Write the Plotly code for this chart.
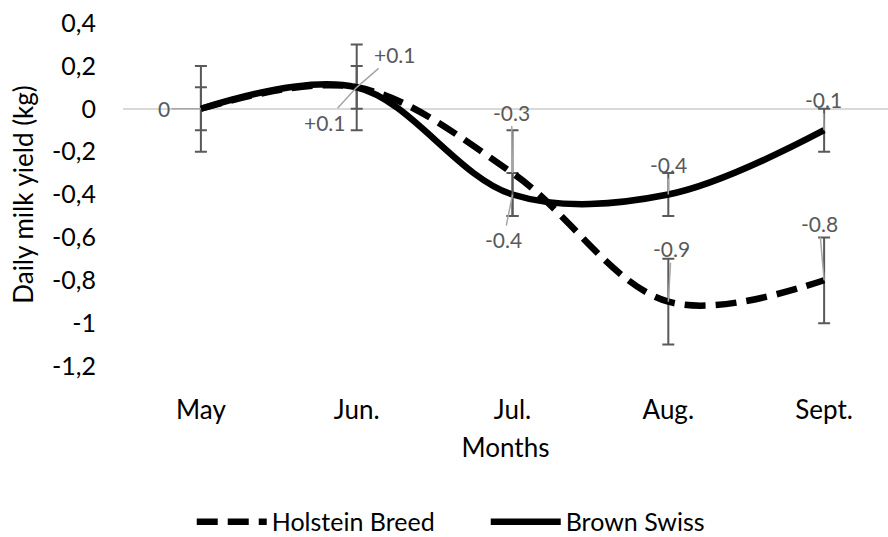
import plotly.graph_objects as go

# ---- data ----
months = ["May", "Jun.", "Jul.", "Aug.", "Sept."]
holstein = [0.0, 0.1, -0.3, -0.9, -0.8]
brown_swiss = [0.0, 0.1, -0.4, -0.4, -0.1]
holstein_err = [0.2, 0.2, 0.2, 0.2, 0.2]
brown_swiss_err = [0.1, 0.1, 0.1, 0.1, 0.1]
holstein_labels = ["0", "+0.1", "-0.3", "-0.9", "-0.8"]
brown_swiss_labels = ["", "+0.1", "-0.4", "-0.4", "-0.1"]
y_tick_vals = [0.4, 0.2, 0.0, -0.2, -0.4, -0.6, -0.8, -1.0, -1.2]
y_tick_text = ["0,4", "0,2", "0", "-0,2", "-0,4", "-0,6", "-0,8", "-1", "-1,2"]

# ---- label placement (pixel offsets from the point to the label) ----
holstein_label_offsets = [(-37, 0), (-32, 35), (-1, -61), (3, -53), (-5, -57)]
brown_label_offsets = [(0, 0), (38, -33), (-9, 45), (0, -30), (-1, -31)]

FONT = "Lato"
LABEL_GREY = "#595959"
ERR_GREY = "#595959"

fig = go.Figure()

fig.add_trace(go.Scatter(
    x=months, y=brown_swiss, name="Brown Swiss", mode="lines",
    line=dict(color="black", width=6.5, shape="spline", smoothing=1),
    error_y=dict(type="data", array=brown_swiss_err, color=ERR_GREY, thickness=2, width=6),
    legendrank=2,
))
fig.add_trace(go.Scatter(
    x=months, y=holstein, name="Holstein Breed", mode="lines",
    line=dict(color="black", width=6.5, shape="spline", smoothing=1, dash="21px,10px"),
    error_y=dict(type="data", array=holstein_err, color=ERR_GREY, thickness=2, width=6),
    legendrank=1,
))

for series, labels, offs in [(holstein, holstein_labels, holstein_label_offsets),
                             (brown_swiss, brown_swiss_labels, brown_label_offsets)]:
    for m, v, t, (dx, dy) in zip(months, series, labels, offs):
        if not t:
            continue
        fig.add_annotation(
            x=m, y=v, text=t, showarrow=True, arrowhead=0, arrowwidth=1.5,
            arrowcolor="#a6a6a6", ax=dx, ay=dy, standoff=0,
            font=dict(family=FONT, size=21, color=LABEL_GREY),
        )

fig.update_layout(
    width=888, height=537,
    margin=dict(l=123, r=0, t=23, b=171, autoexpand=False),
    paper_bgcolor="white", plot_bgcolor="white",
    font=dict(family=FONT, color="black"),
    showlegend=True,
    legend=dict(
        orientation="h", xref="container", yref="container",
        x=0.547, xanchor="center", y=0.028, yanchor="middle",
        font=dict(family=FONT, size=25, color="black"),
        itemwidth=70, entrywidth=209,
    ),
)

fig.update_xaxes(
    type="category", range=[-0.5, 4.41], automargin=False,
    showgrid=False, zeroline=False, showline=False, ticks="",
    tickfont=dict(family=FONT, size=26, color="black"),
    ticklabelstandoff=26,
    title=dict(text="Months", font=dict(family=FONT, size=26, color="black"), standoff=14),
)
fig.update_yaxes(
    range=[-1.2, 0.4], tickvals=y_tick_vals, ticktext=y_tick_text, automargin=False,
    showgrid=False, zeroline=True, zerolinecolor="#d9d9d9", zerolinewidth=1.5,
    showline=False, ticks="",
    tickfont=dict(family=FONT, size=25, color="black"),
    ticklabelstandoff=26,
    title=dict(text="Daily milk yield (kg)", font=dict(family=FONT, size=26, color="black"), standoff=10),
)

fig.write_html("out.html", config={"displayModeBar": False},
               post_script="document.body.style.margin='0';")
